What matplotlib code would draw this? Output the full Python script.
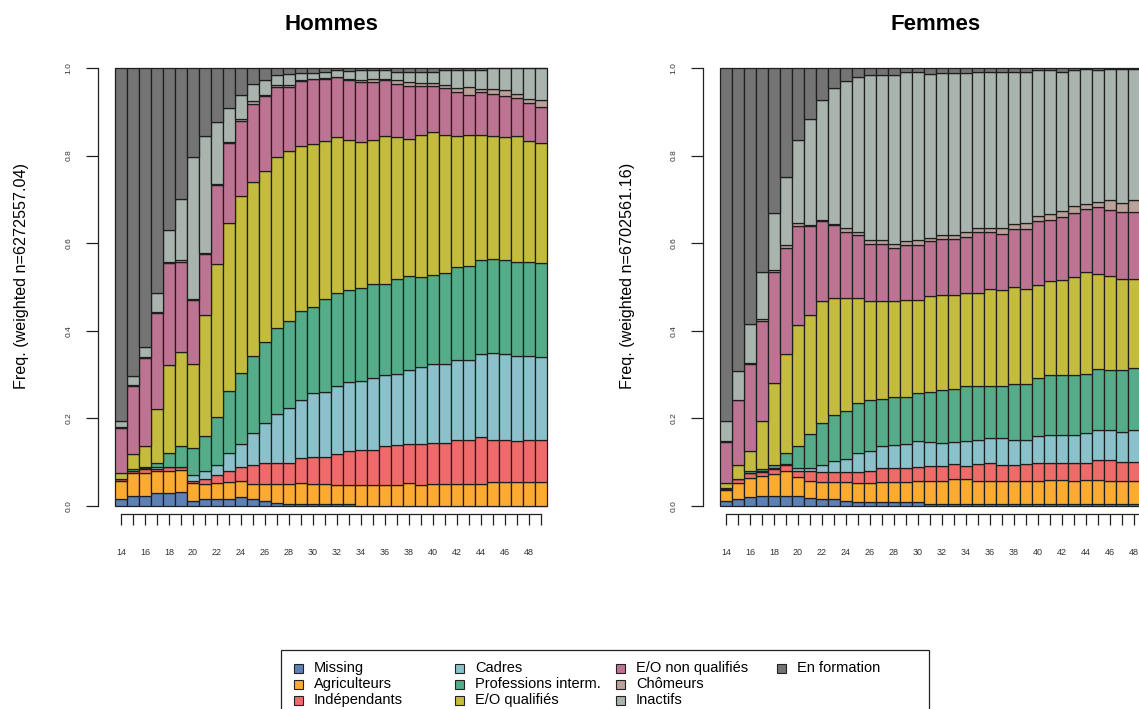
import numpy as np
import matplotlib.pyplot as plt
from matplotlib.patches import Rectangle

plt.rcParams['font.family'] = ['Liberation Sans', 'DejaVu Sans']

# ages en abscisse
ages = list(range(14, 50))
tick_labels = [str(a) if a % 2 == 0 else '' for a in ages]

categories = ['Missing', 'Agriculteurs', 'Indépendants', 'Cadres',
              'Professions interm.', 'E/O qualifiés', 'E/O non qualifiés',
              'Chômeurs', 'Inactifs', 'En formation']
colors = ['#5E81B5', '#FBAA32', '#EE6B6A', '#8BC1CA', '#54AD88',
          '#C4BC3E', '#BD7492', '#BAA199', '#A9B4AE', '#747474']

# Hommes : part cumulée au sommet de chaque catégorie
h_missing = [.015, .023, .023, .029, .029, .032, .012, .015, .015, .015, .021, .015,
             .012, .006, .005, .005, .005, .005, .005, .005, 0, 0, 0, 0,
             0, 0, 0, 0, 0, 0, 0, 0, 0, 0, 0, 0]
h_agri = [.057, .075, .076, .080, .081, .082, .052, .050, .052, .055, .057, .050,
          .050, .050, .050, .053, .050, .050, .048, .049, .048, .048, .048, .048,
          .052, .049, .051, .051, .051, .051, .051, .055, .055, .055, .055, .055]
h_indep = [.061, .079, .085, .085, .088, .088, .056, .061, .071, .079, .090, .093,
           .099, .099, .099, .109, .113, .113, .118, .126, .128, .128, .136, .139,
           .142, .142, .144, .144, .151, .151, .157, .151, .151, .148, .151, .151]
h_cadres = [.061, .080, .086, .088, .090, .090, .071, .080, .093, .122, .141, .166,
            .189, .210, .224, .241, .257, .260, .273, .282, .286, .292, .299, .302,
            .311, .317, .324, .324, .333, .333, .346, .349, .347, .343, .343, .340]
h_prof = [.062, .084, .090, .099, .122, .137, .132, .160, .204, .263, .303, .343,
          .375, .407, .423, .445, .455, .472, .486, .494, .497, .506, .506, .519,
          .524, .522, .528, .532, .545, .548, .561, .564, .561, .557, .557, .554]
h_qual = [.075, .118, .137, .221, .321, .352, .324, .435, .553, .647, .707, .739,
          .765, .797, .810, .823, .826, .833, .842, .836, .830, .836, .845, .842,
          .839, .848, .855, .848, .845, .846, .848, .845, .842, .845, .833, .829]
h_nonqual = [.179, .274, .339, .440, .554, .558, .471, .576, .733, .829, .880, .918,
             .935, .957, .957, .970, .975, .976, .979, .973, .968, .967, .973, .964,
             .960, .960, .958, .954, .945, .938, .945, .941, .935, .931, .919, .912]
h_chom = [.181, .276, .341, .443, .556, .561, .473, .578, .736, .832, .883, .924,
          .939, .962, .961, .972, .976, .977, .980, .976, .973, .976, .975, .972,
          .969, .966, .966, .962, .955, .956, .952, .952, .949, .940, .929, .928]
h_inact = [.193, .297, .364, .487, .631, .700, .797, .845, .877, .909, .938, .964,
           .973, .985, .987, .989, .989, .991, .996, .994, .995, .996, .996, .992,
           .992, .992, .992, .995, .996, .996, .996, 1.0, 1.0, 1.0, 1.0, 1.0]
h_form = [1.0] * 36

# Femmes
f_missing = [.012, .015, .020, .023, .023, .023, .023, .018, .015, .015, .012, .009,
             .008, .008, .008, .008, .008, .005, .005, .005, .005, .005, .005, .005,
             .005, .005, .005, .005, .005, .005, .005, .005, .004, .004, .004, .004]
f_agri = [.037, .052, .065, .069, .072, .080, .066, .058, .055, .055, .055, .052,
          .052, .055, .055, .055, .057, .057, .058, .061, .061, .058, .058, .058,
          .058, .058, .058, .059, .059, .058, .059, .059, .058, .058, .058, .058]
f_indep = [.038, .061, .075, .078, .084, .094, .081, .081, .077, .077, .077, .077,
           .080, .087, .087, .087, .090, .091, .091, .095, .091, .095, .099, .093,
           .093, .096, .099, .099, .099, .099, .099, .105, .105, .101, .101, .101]
f_cadres = [.040, .061, .076, .080, .086, .096, .087, .087, .093, .103, .107, .120,
            .125, .136, .139, .142, .149, .145, .143, .147, .149, .151, .155, .155,
            .151, .151, .160, .162, .162, .162, .166, .174, .174, .170, .174, .174]
f_prof = [.042, .062, .079, .084, .093, .120, .137, .164, .189, .208, .218, .235,
          .241, .244, .248, .250, .257, .260, .265, .268, .274, .274, .274, .274,
          .279, .279, .292, .298, .298, .298, .301, .313, .311, .311, .314, .314]
f_qual = [.053, .093, .126, .193, .280, .347, .413, .435, .467, .476, .474, .476,
          .467, .467, .467, .471, .471, .480, .482, .482, .486, .486, .495, .494,
          .499, .495, .505, .513, .516, .522, .535, .530, .525, .519, .519, .519]
f_nonqual = [.147, .241, .324, .423, .535, .590, .640, .640, .650, .641, .625, .618,
             .598, .598, .589, .595, .596, .605, .610, .610, .615, .625, .625, .621,
             .633, .633, .650, .653, .660, .669, .679, .682, .675, .672, .672, .672]
f_chom = [.149, .243, .326, .428, .539, .595, .646, .642, .653, .644, .634, .625,
          .608, .608, .598, .604, .608, .612, .618, .618, .625, .634, .634, .634,
          .644, .646, .663, .666, .673, .684, .690, .695, .699, .692, .698, .698]
f_inact = [.193, .308, .416, .535, .670, .752, .836, .883, .926, .954, .970, .979,
           .984, .984, .984, .990, .990, .986, .989, .989, .989, .992, .992, .992,
           .992, .992, .996, .996, .992, .996, .998, .996, .998, .998, .998, .998]
f_form = [1.0] * 36

hommes = [h_missing, h_agri, h_indep, h_cadres, h_prof, h_qual,
          h_nonqual, h_chom, h_inact, h_form]
femmes = [f_missing, f_agri, f_indep, f_cadres, f_prof, f_qual,
          f_nonqual, f_chom, f_inact, f_form]

W, H = 1139, 709
fig = plt.figure(figsize=(W / 100, H / 100), dpi=100)


def panel(left_px, cum_series, title, ylabel):
    ax = fig.add_axes([left_px / W, 1 - 506 / H, 432 / W, 438 / H])
    x = np.arange(len(ages))
    bottom = np.zeros(len(ages))
    for cum, col in zip(cum_series, colors):
        top = np.array(cum)
        ax.bar(x, top - bottom, bottom=bottom, width=1.0, color=col,
               edgecolor='#1e1e1e', linewidth=0.9, clip_on=False)
        bottom = top
    ax.set_xlim(-0.5, len(ages) - 0.5)
    ax.set_ylim(0, 1)
    for s in ['top', 'right']:
        ax.spines[s].set_visible(False)
    ax.spines['left'].set_position(('outward', 12))
    ax.spines['left'].set_bounds(0, 1)
    ax.spines['bottom'].set_position(('outward', 6))
    ax.spines['bottom'].set_bounds(0, len(ages) - 1)
    for s in ['left', 'bottom']:
        ax.spines[s].set_linewidth(0.9)
        ax.spines[s].set_color('#222222')
    ax.set_xticks(x)
    ax.set_xticklabels(tick_labels, fontsize=6.5, color='#333333')
    ax.tick_params(axis='x', length=8, width=0.9, color='#222222', pad=16)
    ax.set_yticks([0, 0.2, 0.4, 0.6, 0.8, 1.0])
    ax.set_yticklabels(['0.0', '0.2', '0.4', '0.6', '0.8', '1.0'],
                       rotation=90, va='center', fontsize=6, color='#333333')
    ax.tick_params(axis='y', length=8.5, width=0.9, color='#222222', pad=10)
    fig.text((left_px + 216) / W, 1 - 25 / H, title, ha='center', va='center',
             fontsize=16, fontweight='bold')
    fig.text((left_px - 93) / W, 1 - 276 / H, ylabel, ha='center', va='center',
             rotation=90, fontsize=11.6)
    return ax


panel(115, hommes, 'Hommes', 'Freq. (weighted n=6272557.04)')
panel(720, femmes, 'Femmes', 'Freq. (weighted n=6702561.16)')

# légende en 4 colonnes
fig.add_artist(Rectangle((281 / W, -8 / H), 648 / W, (709 - 650 + 8) / H,
                         transform=fig.transFigure, facecolor='white',
                         edgecolor='#222222', linewidth=0.9, clip_on=False))
for i, (lab, col) in enumerate(zip(categories, colors)):
    cx = 298 + (i // 3) * 161
    cy = 668 + (i % 3) * 16
    fig.add_artist(Rectangle(((cx - 4.5) / W, 1 - (cy + 4.5) / H), 9 / W, 9 / H,
                             transform=fig.transFigure, facecolor=col,
                             edgecolor='#222222', linewidth=0.8))
    fig.text((cx + 16) / W, 1 - cy / H, lab, ha='left', va='center', fontsize=10.5)

fig.savefig('out.png', dpi=100)
